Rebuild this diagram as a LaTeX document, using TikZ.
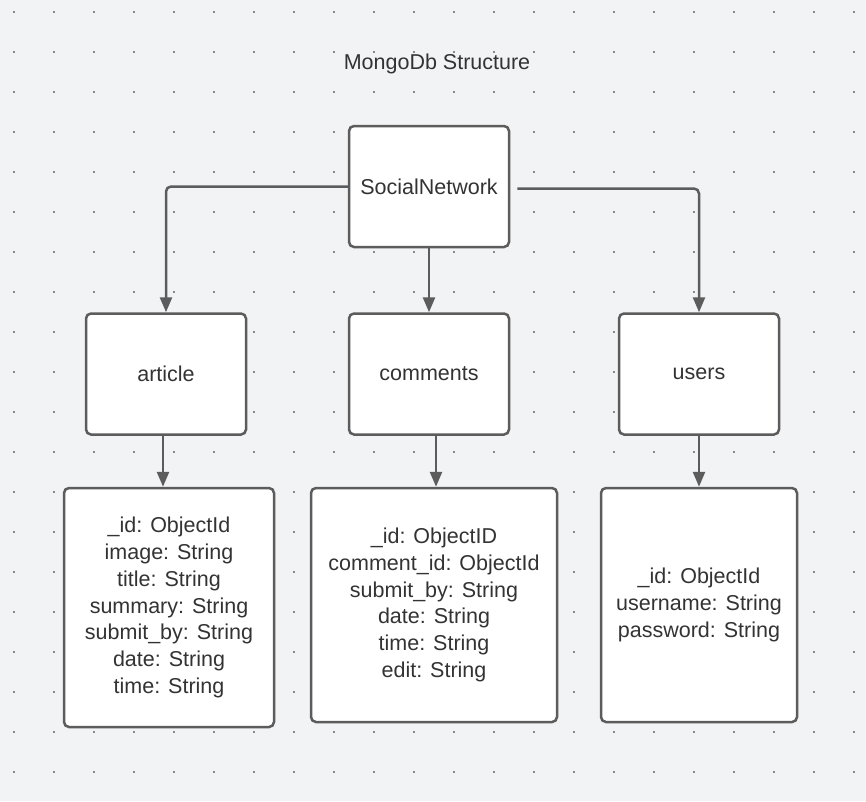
\documentclass[tikz,border=0pt]{standalone}
\usepackage{fontspec}
\setmainfont{Liberation Sans}
\usetikzlibrary{positioning, calc, arrows.meta}
\definecolor{linegray}{HTML}{5C5C5C}
\definecolor{textgray}{HTML}{333333}
\definecolor{canvas}{HTML}{F2F3F5}
\definecolor{dotgray}{HTML}{8A8A8A}
\tikzstyle{Arrow} = [
%Arrow style for the links:
line width = 2.5pt, draw = linegray,
-{Triangle[length=15pt, width=12pt]}
]

\begin{document}
\begin{tikzpicture}[x = 1pt, y = -1pt,
			collection/.style = {rectangle, rounded corners = 5pt, line width = 2.5pt, draw = linegray, fill = white, text = textgray, font = \fontsize{21.5}{26.7}\selectfont, text centered, align = center, minimum width = 160pt, minimum height = 121pt},
			fields/.style = {collection, minimum height = 234pt},
			title/.style = {text = textgray, font = \fontsize{21.5}{26}\selectfont},
		]
		% dotted canvas
		\fill[canvas] (0,0) rectangle (866,801);
		\foreach \x in {14,54,...,854}
			\foreach \y in {12,52,...,792}
				\fill[dotgray] (\x-1,\y-1) rectangle ++(2,2);

		\node[title](TT) at (437,63.5){MongoDb Structure};

		\node[collection](SN) at (429,186.5){SocialNetwork};
		\node[collection](AR) at (166,374){article};
		\node[collection](CM) at (429,374){comments};
		\node[collection](US) at (699,374){users};

		\node[fields, minimum width = 210pt, minimum height = 239pt](ARF) at (169,607.5){\_id: ObjectId\\image: String\\title: String\\summary: String\\submit\_by: String\\date: String\\time: String};
		\node[fields, minimum width = 246pt](CMF) at (434,605){\_id: ObjectID\\comment\_id: ObjectId\\submit\_by: String\\date: String\\time: String\\edit: String};
		\node[fields, minimum width = 196pt](USF) at (699,605){\_id: ObjectId\\username: String\\password: String};

		\draw[Arrow, rounded corners = 5pt](SN.west) -| (AR.north);
		\draw[Arrow, rounded corners = 5pt]([shift = {(7,2)}]SN.east) -| (US.north);
		\draw[Arrow](SN.south) -- (CM.north);
		\draw[Arrow]([xshift = -3pt]AR.south) -- ([xshift = -3pt]AR.south |- ARF.north);
		\draw[Arrow]([xshift = 7pt]CM.south) -- ([xshift = 7pt]CM.south |- CMF.north);
		\draw[Arrow](US.south) -- (USF.north);

	\end{tikzpicture}
\end{document}
